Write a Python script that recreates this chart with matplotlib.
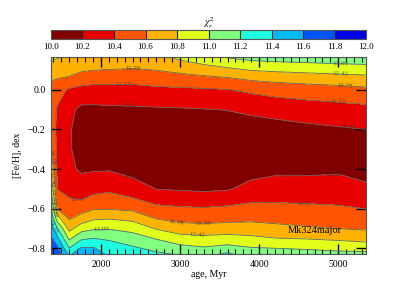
import numpy as np
import matplotlib
matplotlib.use("Agg")
import matplotlib.pyplot as plt
from matplotlib.colors import ListedColormap, BoundaryNorm
from matplotlib.cm import ScalarMappable
from matplotlib.ticker import MultipleLocator

plt.rcParams['font.family'] = ['Liberation Serif', 'DejaVu Serif']
plt.rcParams['mathtext.fontset'] = 'stix'

# grid of the chi^2 map
ages = [1370, 1450, 1600, 1750, 1900, 2100, 2400, 2700, 3000, 3300, 3600, 3900, 4200, 4600, 5000, 5350]
feh = [0.17, 0.12, 0.06, 0.0, -0.1, -0.2, -0.3, -0.4, -0.5, -0.55, -0.6, -0.65, -0.7, -0.75, -0.8, -0.84]
chi2 = [
    [12.6, 12.5, 12.35, 12.2, 12.15, 12.15, 12.1, 12.3, 12.6, 13.0, 13.2, 13.37, 13.45, 13.5, 13.55, 13.6],
    [12.25, 12.17, 12.07, 11.98, 11.95, 11.92, 11.87, 11.94, 12.13, 12.3, 12.52, 12.71, 12.78, 12.86, 12.93, 12.98],
    [11.83, 11.8, 11.73, 11.56, 11.46, 11.43, 11.4, 11.48, 11.55, 11.65, 11.75, 11.91, 12.0, 12.08, 12.16, 12.23],
    [11.65, 11.42, 11.08, 10.97, 10.94, 10.96, 10.97, 11.04, 11.07, 11.1, 11.14, 11.28, 11.39, 11.48, 11.55, 11.64],
    [11.5, 11.1, 10.72, 10.47, 10.47, 10.49, 10.51, 10.52, 10.54, 10.57, 10.6, 10.67, 10.77, 10.87, 10.94, 11.0],
    [11.55, 11.05, 10.68, 10.22, 10.14, 10.15, 10.25, 10.28, 10.3, 10.33, 10.37, 10.4, 10.39, 10.46, 10.53, 10.59],
    [11.77, 11.05, 10.68, 10.25, 10.12, 10.07, 10.06, 10.06, 10.06, 10.08, 10.12, 10.12, 10.17, 10.16, 10.2, 10.3],
    [12.27, 11.08, 10.72, 10.5, 10.53, 10.54, 10.38, 10.31, 10.29, 10.27, 10.3, 10.38, 10.46, 10.46, 10.5, 10.41],
    [12.96, 11.15, 11.02, 10.89, 10.99, 11.06, 10.86, 10.57, 10.54, 10.52, 10.54, 10.76, 10.84, 10.84, 10.85, 10.68],
    [13.43, 11.4, 11.19, 11.12, 11.29, 11.37, 11.2, 10.93, 10.84, 10.77, 10.87, 11.05, 11.07, 11.05, 11.03, 10.92],
    [13.92, 11.73, 11.45, 11.5, 11.71, 11.73, 11.63, 11.32, 11.25, 11.22, 11.28, 11.34, 11.32, 11.29, 11.24, 11.16],
    [14.38, 12.69, 11.71, 12.02, 12.32, 12.38, 12.24, 11.75, 11.59, 11.56, 11.6, 11.64, 11.6, 11.55, 11.5, 11.43],
    [14.9, 13.82, 12.2, 12.77, 12.97, 13.03, 12.85, 12.36, 12.05, 11.98, 12.05, 12.04, 11.94, 11.84, 11.76, 11.7],
    [15.45, 14.72, 12.93, 13.63, 13.8, 13.68, 13.4, 13.03, 12.67, 12.59, 12.65, 12.55, 12.43, 12.37, 12.27, 12.16],
    [15.96, 15.5, 13.79, 14.61, 14.6, 14.2, 13.89, 13.62, 13.3, 13.15, 13.31, 13.13, 13.08, 13.02, 12.93, 12.83],
    [16.3, 16.0, 14.53, 15.2, 15.0, 14.5, 14.27, 14.0, 13.86, 13.72, 14.15, 13.5, 13.45, 13.43, 13.35, 13.4],
]

levels = [9.9, 10.59, 11.17, 11.78, 12.42, 13.09, 13.80, 14.55, 15.34, 16.18, 17.06]
colors = ['#800000', '#e80000', '#ff5500', '#ffb300', '#e2ff1c',
          '#80ff80', '#1cffe0', '#00bbff', '#0055ff', '#0000e6']
cbar_ticks = [10.0, 10.2, 10.4, 10.6, 10.8, 11.0, 11.2, 11.4, 11.6, 11.8, 12.0]

# where the contour labels sit (age, [Fe/H])
label_pos = [(2342, -0.07), (2278, 0.037), (2405, 0.103),
             (5026, 0.149), (5026, 0.09), (5089, 0.027), (5000, -0.044), (5127, -0.186),
             (4937, -0.43), (2367, -0.465), (1734, -0.511), (4583, -0.552),
             (2962, -0.65), (3291, -0.696), (3215, -0.757), (2000, -0.718),
             (1392, -0.339), (1392, -0.455), (1392, -0.537), (1392, -0.608), (1392, -0.69)]

X, Y = np.meshgrid(ages, feh)
Z = np.array(chi2)

fig = plt.figure(figsize=(4.07, 2.91), dpi=100)
ax = fig.add_axes([0.1253, 0.1271, 0.774, 0.676])

ax.contourf(X, Y, Z, levels=levels, colors=colors)
cs = ax.contour(X, Y, Z, levels=levels[1:-1], colors='#666666', linewidths=0.6)
lbls = ax.clabel(cs, fmt='%.2f', fontsize=5, inline=False, colors='#303030', manual=label_pos)
for t in lbls:
    t.set_alpha(0.75)

ax.text(4357, -0.71, 'Mk324major', fontsize=7.5, va='center', ha='left')

ax.set_xlim(1370, 5350)
ax.set_ylim(-0.83, 0.165)
ax.set_xticks([2000, 3000, 4000, 5000])
ax.set_yticks([-0.8, -0.6, -0.4, -0.2, 0.0])
ax.xaxis.set_minor_locator(MultipleLocator(100))
ax.tick_params(which='major', direction='in', top=True, right=True, length=7, width=1, labelsize=7, pad=4)
ax.tick_params(which='minor', direction='in', top=True, bottom=True, length=3.5, width=0.8)
ax.tick_params(axis='y', which='minor', left=False, right=False)
for s in ax.spines.values():
    s.set_color('#555555')
ax.set_xlabel('age, Myr', fontsize=7, labelpad=1)
ax.set_ylabel('[Fe/H], dex', fontsize=7, labelpad=4)

# colour bar on top
cax = fig.add_axes([0.1253, 0.866, 0.774, 0.031])
sm = ScalarMappable(norm=BoundaryNorm(cbar_ticks, len(colors)), cmap=ListedColormap(colors))
cb = fig.colorbar(sm, cax=cax, orientation='horizontal', drawedges=True, ticks=cbar_ticks, format='%.1f')
cb.dividers.set_color('#222222')
cb.dividers.set_linewidth(0.8)
cb.outline.set_edgecolor('#555555')
cax.tick_params(length=0, labelsize=6.5, pad=3)
fig.text(0.512, 0.921, r'$\chi^2_r$', fontsize=7, ha='center', va='center')

fig.savefig('out.png', dpi=100)
